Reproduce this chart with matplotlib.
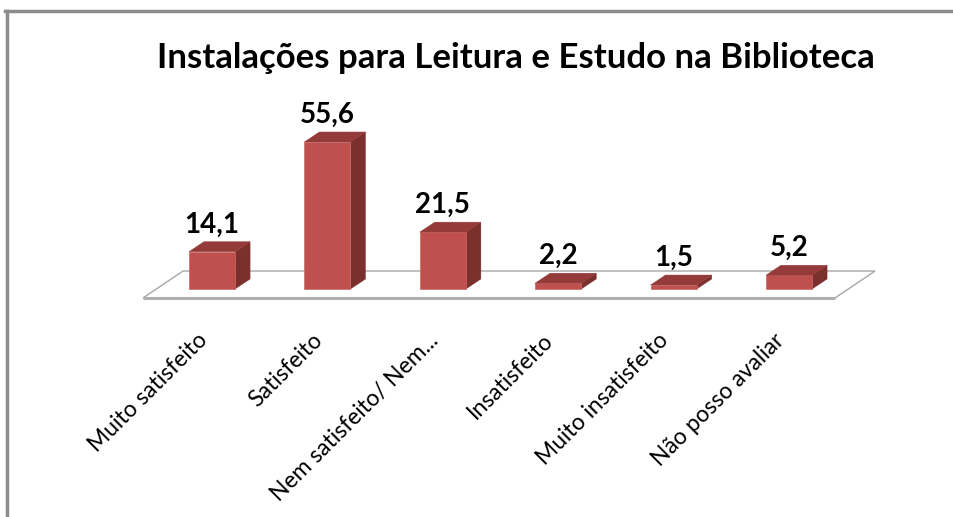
import matplotlib
matplotlib.use('Agg')
import matplotlib.pyplot as plt
from matplotlib.patches import Polygon
from matplotlib.lines import Line2D

categories = ["Muito satisfeito", "Satisfeito", "Nem satisfeito/ Nem...",
              "Insatisfeito", "Muito insatisfeito", "Não posso avaliar"]
values = [14.1, 55.6, 21.5, 2.2, 1.5, 5.2]
value_labels = ["14,1", "55,6", "21,5", "2,2", "1,5", "5,2"]
title = "Instalações para Leitura e Estudo na Biblioteca"

W, H = 954, 517
fig = plt.figure(figsize=(W / 100, H / 100), dpi=100)
fig.patch.set_facecolor('white')
ax = fig.add_axes([0, 0, 1, 1])

# scale: pixels per data unit
px_x = 115.4
x0px = 212
px_y = 2.644
y0px = H - 289
ax.set_xlim(-x0px / px_x, (W - x0px) / px_x)
ax.set_ylim(-y0px / px_y, (H - y0px) / px_y)
ax.axis('off')

FONT = 'Lato'
front_c = '#C0504D'
side_c = '#7B302E'
top_c = '#943A38'

# floor (3D base)
fy = -9 / px_y
by = 18 / px_y
fxl = (143 - x0px) / px_x
fxr = (835 - x0px) / px_x
sh = 40 / px_x
floor = Polygon([(fxl, fy), (fxr, fy), (fxr + sh, by), (fxl + sh, by)],
                closed=True, facecolor='white', edgecolor='#A6A6A6', lw=1.0, zorder=1)
ax.add_patch(floor)
ax.plot([fxl, fxr], [fy, fy], color='#B0B0B0', lw=2.2, zorder=1.5, solid_capstyle='butt')

# bars
xs = list(range(len(values)))
bw = 0.4
dx = 15 / px_x
dy = 10 / px_y
ax.bar(xs, values, width=bw, color=front_c, zorder=3, edgecolor='#C86A67', linewidth=0.5)
for x, v, lab in zip(xs, values, value_labels):
    r = x + bw / 2
    l = x - bw / 2
    side = Polygon([(r, 0), (r + dx, dy), (r + dx, v + dy), (r, v)], closed=True,
                   facecolor=side_c, edgecolor=side_c, lw=0.3, zorder=2.9)
    top = Polygon([(l, v), (r, v), (r + dx, v + dy), (l + dx, v + dy)], closed=True,
                  facecolor=top_c, edgecolor=top_c, lw=0.3, zorder=3.1)
    ax.add_patch(side)
    ax.add_patch(top)
    ax.text(x, v + dy + 9 / px_y, lab, ha='center', va='baseline',
            fontsize=20, fontweight='bold', family=FONT, color='black', zorder=5)

# category labels
ly = (289 - 337) / px_y
for x, c in zip(xs, categories):
    ax.text(x - 0.07, ly, c, rotation=45, rotation_mode='anchor', ha='right', va='center',
            fontsize=16.5, family=FONT, color='black')

# title
fig.text(516 / W, 1 - 58 / H, title, ha='center', va='center', fontsize=25,
         fontweight='bold', family=FONT, color='black')

# outer frame (top and left)
fig.add_artist(Line2D([5 / W, 1], [1 - 11 / H, 1 - 11 / H], color='#8C8C8C', lw=2.5,
                      transform=fig.transFigure))
fig.add_artist(Line2D([7 / W, 7 / W], [0, 1 - 11 / H], color='#8C8C8C', lw=2.5,
                      transform=fig.transFigure))

fig.savefig('out.png', dpi=100, facecolor='white')
